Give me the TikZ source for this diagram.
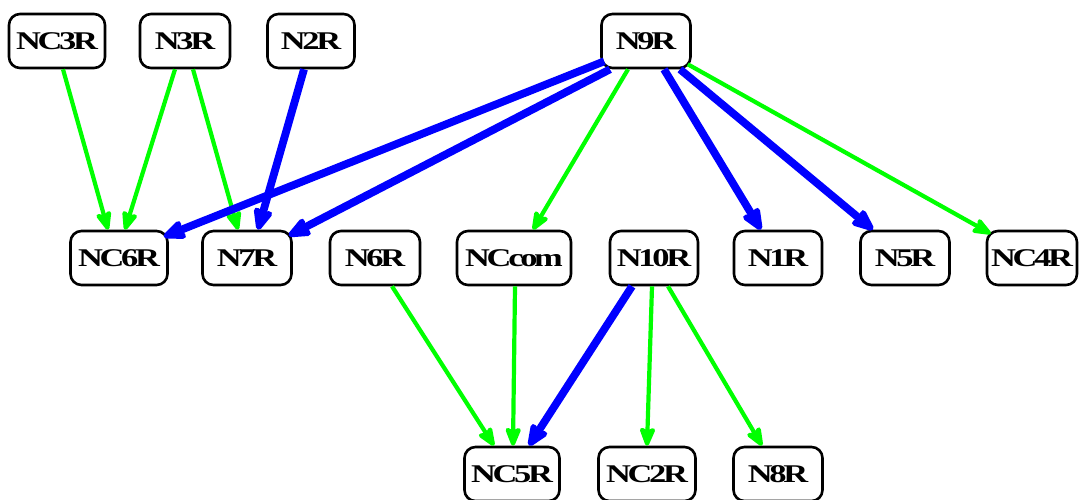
\documentclass[tikz,border=0pt]{standalone}
\usepackage{fontspec}
\newfontfamily\lblfont{Liberation Serif}[FakeStretch=1.35,LetterSpace=-13]
\usetikzlibrary{arrows.meta}
\definecolor{edgegreen}{RGB}{0,255,0}
\definecolor{edgeblue}{RGB}{0,0,255}
\begin{document}
\begin{tikzpicture}[x=1pt,y=-1pt,
  box/.style={draw=black,line width=2.6pt,rounded corners=11pt,minimum height=54pt,
    inner sep=0pt,font=\lblfont\bfseries\fontsize{25.5}{29}\selectfont},
  gedge/.style={draw=edgegreen,line width=4.2pt,
    -{Stealth[length=23pt,width=18pt,inset=4pt,round]}},
  bedge/.style={draw=edgeblue,line width=7.8pt,
    -{Stealth[length=28pt,width=23pt,inset=5pt,round]}}]
\useasboundingbox (0,0) rectangle (1081,499);

% top row
\node[box,minimum width=96pt] (NC3R) at (57,41) {NC3R};
\node[box,minimum width=90pt] (N3R)  at (185,41) {N3R};
\node[box,minimum width=87pt] (N2R)  at (311,41) {N2R};
\node[box,minimum width=89pt] (N9R)  at (646,41) {N9R};

% middle row
\node[box,minimum width=97pt]  (NC6R)  at (119,258) {NC6R};
\node[box,minimum width=89pt]  (N7R)   at (247,258) {N7R};
\node[box,minimum width=90pt]  (N6R)   at (375,258) {N6R};
\node[box,minimum width=114pt] (NCcom) at (514,258) {NCcom};
\node[box,minimum width=88pt]  (N10R)  at (654,258) {N10R};
\node[box,minimum width=88pt]  (N1R)   at (778,258) {N1R};
\node[box,minimum width=89pt]  (N5R)   at (905,258) {N5R};
\node[box,minimum width=90pt]  (NC4R)  at (1032,258) {NC4R};

% bottom row
\node[box,minimum width=95pt] (NC5R) at (512,474) {NC5R};
\node[box,minimum width=97pt] (NC2R) at (647,474) {NC2R};
\node[box,minimum width=89pt] (N8R)  at (778,474) {N8R};

% edges into the middle row
\draw[gedge] ([xshift=6pt]NC3R.south) -- ([xshift=-11pt]NC6R.north);
\draw[gedge] ([xshift=-10pt]N3R.south) -- ([xshift=6pt]NC6R.north);
\draw[gedge] ([xshift=8pt]N3R.south) -- ([xshift=-9pt]N7R.north);
\draw[bedge] ([xshift=-7pt]N2R.south) -- ([xshift=11pt]N7R.north);
\draw[bedge] ([shift={(4,-8)}]N9R.south west) -- ([shift={(-5,7)}]NC6R.north east);
\draw[bedge] ([xshift=-36pt]N9R.south) -- ([shift={(-4,6)}]N7R.north east);
\draw[gedge] ([xshift=-18pt]N9R.south) -- ([xshift=19pt]NCcom.north);
\draw[bedge] ([xshift=18pt]N9R.south) -- ([xshift=-17pt]N1R.north);
\draw[bedge] ([xshift=34pt]N9R.south) -- ([xshift=-32pt]N5R.north);
\draw[gedge] ([shift={(-4,-5)}]N9R.south east) -- ([shift={(5,4)}]NC4R.north west);

% edges into the bottom row
\draw[gedge] ([xshift=17pt]N6R.south) -- ([xshift=-18pt]NC5R.north);
\draw[gedge] ([xshift=1pt]NCcom.south) -- ([xshift=1pt]NC5R.north);
\draw[bedge] ([xshift=-22pt]N10R.south) -- ([xshift=17pt]NC5R.north);
\draw[gedge] ([xshift=-2pt]N10R.south) -- (NC2R.north);
\draw[gedge] ([xshift=14pt]N10R.south) -- ([xshift=-16pt]N8R.north);
\end{tikzpicture}
\end{document}
